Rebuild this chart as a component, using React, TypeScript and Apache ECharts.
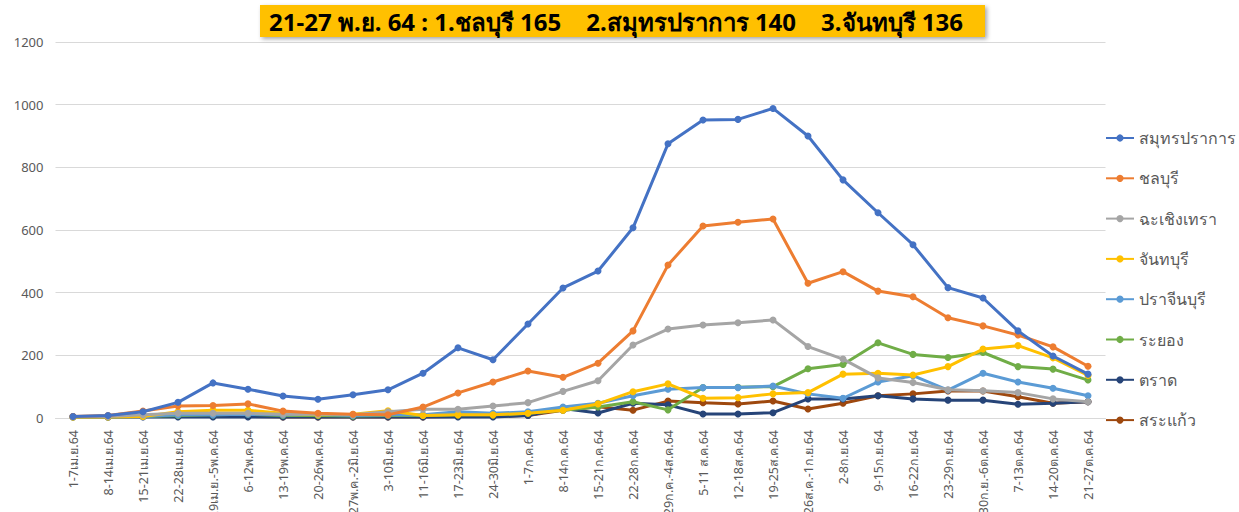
import React, { useEffect, useRef } from "react";
import * as echarts from "echarts";

const categories = [
  "1-7เม.ย.64", "8-14เม.ย.64", "15-21เม.ย.64", "22-28เม.ย.64", "29เม.ย.-5พ.ค.64",
  "6-12พ.ค.64", "13-19พ.ค.64", "20-26พ.ค.64", "27พ.ค.-2มิ.ย.64", "3-10มิ.ย.64",
  "11-16มิ.ย.64", "17-23มิ.ย.64", "24-30มิ.ย.64", "1-7ก.ค.64", "8-14ก.ค.64",
  "15-21ก.ค.64", "22-28ก.ค.64", "29ก.ค.-4ส.ค.64", "5-11 ส.ค.64", "12-18ส.ค.64",
  "19-25ส.ค.64", "26ส.ค.-1ก.ย.64", "2-8ก.ย.64", "9-15ก.ย.64", "16-22ก.ย.64",
  "23-29ก.ย.64", "30ก.ย.-6ต.ค.64", "7-13ต.ค.64", "14-20ต.ค.64", "21-27ต.ค.64",
];

const samutPrakan = [5, 8, 20, 50, 112, 92, 70, 60, 74, 90, 143, 224, 186, 300, 415, 469, 607, 875, 951, 953, 988, 900, 760, 655, 553, 416, 383, 278, 198, 140];
const chonburi = [5, 8, 22, 38, 40, 45, 22, 15, 12, 10, 35, 80, 115, 150, 130, 175, 278, 488, 613, 625, 635, 430, 467, 405, 387, 320, 294, 265, 227, 165];
const chachoengsao = [5, 5, 10, 15, 15, 15, 12, 12, 10, 20, 28, 28, 38, 49, 85, 119, 233, 284, 297, 304, 313, 228, 188, 128, 113, 90, 87, 81, 61, 52];
const chanthaburi = [3, 3, 5, 20, 25, 25, 15, 10, 12, 23, 8, 10, 10, 15, 25, 45, 84, 109, 63, 65, 77, 81, 140, 143, 137, 164, 220, 231, 192, 136];
const prachinburi = [3, 3, 5, 10, 10, 12, 10, 12, 8, 10, 10, 20, 15, 20, 35, 47, 71, 92, 97, 97, 102, 77, 63, 115, 135, 89, 143, 115, 95, 71];
const rayong = [3, 3, 5, 8, 10, 12, 8, 8, 6, 8, 8, 10, 10, 15, 25, 35, 52, 26, 97, 98, 100, 157, 171, 240, 203, 193, 209, 164, 156, 121];
const trat = [5, 3, 3, 3, 3, 3, 3, 3, 3, 3, 3, 3, 3, 8, 30, 16, 47, 42, 13, 13, 17, 61, 61, 71, 61, 57, 57, 44, 47, 52];
const sakaeo = [3, 3, 5, 12, 5, 5, 3, 3, 3, 3, 3, 5, 5, 8, 25, 36, 25, 54, 49, 45, 54, 29, 47, 71, 77, 86, 86, 68, 47, 52];

const seriesNames = ["สมุทรปราการ", "ชลบุรี", "ฉะเชิงเทรา", "จันทบุรี", "ปราจีนบุรี", "ระยอง", "ตราด", "สระแก้ว"];
const seriesData = [samutPrakan, chonburi, chachoengsao, chanthaburi, prachinburi, rayong, trat, sakaeo];
const colors = ["#4472C4", "#ED7D31", "#A5A5A5", "#FFC000", "#5B9BD5", "#70AD47", "#264478", "#9E480E"];
const yTicks = [0, 200, 400, 600, 800, 1000, 1200];
const titleText = "21-27 พ.ย. 64 : 1.ชลบุรี 165    2.สมุทรปราการ 140    3.จันทบุรี 136";

export default function App() {
  const ref = useRef<HTMLDivElement>(null);
  useEffect(() => {
    if (!ref.current) return;
    const chart = echarts.init(ref.current, null, { renderer: "svg" });
    chart.setOption({
      animation: false,
      backgroundColor: "#ffffff",
      color: colors,
      textStyle: { fontFamily: "'Noto Sans', sans-serif" },
      graphic: [
        {
          type: "rect",
          shape: { x: 260, y: 5, width: 725, height: 32 },
          style: { fill: "#FFC000", shadowBlur: 4, shadowColor: "rgba(0,0,0,0.35)", shadowOffsetX: 2, shadowOffsetY: 2 },
          z: 10,
        },
        {
          type: "text",
          x: 616,
          y: 21,
          style: {
            text: titleText,
            fill: "#000000",
            font: "bold 24px 'Noto Sans', sans-serif",
            align: "center",
            verticalAlign: "middle",
          },
          z: 11,
        },
      ],
      legend: {
        orient: "vertical",
        left: 1100,
        top: 125,
        itemWidth: 28,
        itemHeight: 9,
        itemGap: 24.3,
        data: seriesNames,
        textStyle: { fontSize: 16, color: "#595959" },
      },
      grid: {
        left: 55.5,
        right: 133.5,
        top: 42,
        bottom: 94,
        containLabel: false,
        outerBoundsMode: "none",
      },
      xAxis: {
        type: "category",
        data: categories,
        boundaryGap: true,
        axisLine: { lineStyle: { color: "#d9d9d9" } },
        axisTick: { show: false },
        axisLabel: { rotate: 90, interval: 0, fontSize: 12.5, color: "#595959", margin: 12 },
      },
      yAxis: {
        type: "value",
        min: yTicks[0],
        max: yTicks[yTicks.length - 1],
        interval: 200,
        axisLine: { show: false },
        axisTick: { show: false },
        axisLabel: { fontSize: 13, color: "#595959", margin: 12, formatter: (v: number) => String(v) },
        splitLine: { lineStyle: { color: "#d9d9d9", width: 1 } },
      },
      series: seriesNames.map((name, i) => ({
        name,
        type: "line",
        data: seriesData[i],
        symbol: "circle",
        symbolSize: 7,
        lineStyle: { width: 3, color: colors[i] },
        itemStyle: { color: colors[i] },
        z: 10 - i,
      })),
    });
    return () => chart.dispose();
  }, []);
  return <div ref={ref} style={{ position: "fixed", left: 0, top: 0, width: 1239, height: 512 }} />;
}
